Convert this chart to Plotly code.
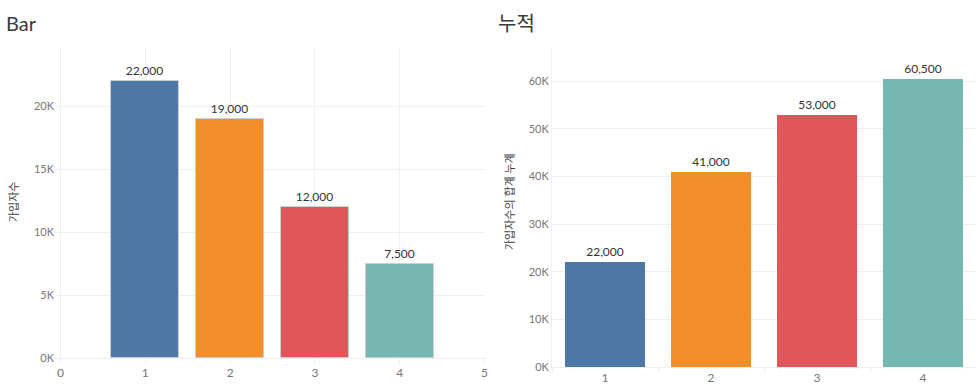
import plotly.graph_objects as go

# ---- data ----
left_x = [1, 2, 3, 4]
left_values = [22000, 19000, 12000, 7500]
right_categories = ["1", "2", "3", "4"]
right_cumulative = [22000, 41000, 53000, 60500]
bar_colors = ["#4e79a7", "#f28e2b", "#e15759", "#76b7b2"]
left_yticks = [0, 5000, 10000, 15000, 20000]
left_yticklabels = ["0K", "5K", "10K", "15K", "20K"]
right_yticks = [0, 10000, 20000, 30000, 40000, 50000, 60000]
right_yticklabels = ["0K", "10K", "20K", "30K", "40K", "50K", "60K"]
left_xticks = [0, 1, 2, 3, 4, 5]
title_left = "Bar"
title_right = "누적"
ytitle_left = "가입자수"
ytitle_right = "가입자수의 합계 누계"

W, H = 976, 387
FONT = "Lato, 'Noto Sans CJK KR', 'Noto Sans', sans-serif"
GRID = "#efefef"
TICKC = "#777777"

def px_x(p):
    return p / W

def px_y(p):
    return 1 - p / H

fig = go.Figure()

fig.add_trace(go.Bar(
    x=left_x, y=left_values, width=0.8,
    marker=dict(color=bar_colors, line=dict(color="#cfcfcf", width=1)),
    texttemplate="%{y:,}", textposition="outside",
    textfont=dict(size=12, color="#333333", family=FONT),
    cliponaxis=False, xaxis="x", yaxis="y", showlegend=False,
))

fig.add_trace(go.Bar(
    x=right_categories, y=right_cumulative, width=0.755,
    marker=dict(color=bar_colors, line=dict(width=0)),
    texttemplate="%{y:,}", textposition="outside",
    textfont=dict(size=12, color="#333333", family=FONT),
    cliponaxis=False, xaxis="x2", yaxis="y2", showlegend=False,
))

fig.update_layout(
    width=W, height=H,
    margin=dict(l=0, r=0, t=0, b=0, autoexpand=False),
    paper_bgcolor="white", plot_bgcolor="white",
    font=dict(family=FONT, size=11, color=TICKC),
    bargap=0,
    xaxis=dict(
        domain=[px_x(55), px_x(485)], anchor="y",
        range=[-0.065, 5.005], tickvals=left_xticks,
        showgrid=True, gridcolor=GRID, gridwidth=1,
        zeroline=False, showline=True, linecolor=GRID,
        ticks="outside", ticklen=4, tickcolor=GRID,
        tickfont=dict(size=12, color=TICKC),
    ),
    yaxis=dict(
        domain=[px_y(358), px_y(47)], anchor="x",
        range=[0, 24700], tickvals=left_yticks, ticktext=left_yticklabels,
        showgrid=True, gridcolor=GRID, gridwidth=1,
        zeroline=False, showline=False, ticks="",
        tickfont=dict(size=11, color=TICKC),
    ),
    xaxis2=dict(
        domain=[px_x(552), 1.0], anchor="y2", type="category",
        range=[-0.5, 3.5], showgrid=False, zeroline=False,
        showline=True, linecolor=GRID,
        ticks="outside", ticklen=5, tickcolor=GRID, tickson="boundaries",
        tickfont=dict(size=12, color=TICKC),
    ),
    yaxis2=dict(
        domain=[px_y(367), px_y(47)], anchor="x2",
        range=[0, 67200], tickvals=right_yticks, ticktext=right_yticklabels,
        showgrid=True, gridcolor=GRID, gridwidth=1,
        zeroline=False, showline=True, linecolor=GRID, ticks="",
        tickfont=dict(size=11, color=TICKC),
    ),
    annotations=[
        dict(text=title_left, xref="paper", yref="paper", x=px_x(4), y=px_y(23),
             xanchor="left", yanchor="middle", showarrow=False,
             font=dict(size=20, color="#3a3a3a", family=FONT)),
        dict(text=title_right, xref="paper", yref="paper", x=px_x(496), y=px_y(23),
             xanchor="left", yanchor="middle", showarrow=False,
             font=dict(size=20, color="#3a3a3a", family=FONT)),
        dict(text=ytitle_left, xref="paper", yref="paper", x=px_x(13), y=px_y(202),
             xanchor="center", yanchor="middle", showarrow=False, textangle=-90,
             font=dict(size=11, color="#444444", family=FONT)),
        dict(text=ytitle_right, xref="paper", yref="paper", x=px_x(509), y=px_y(201),
             xanchor="center", yanchor="middle", showarrow=False, textangle=-90,
             font=dict(size=11, color="#444444", family=FONT)),
    ],
)

fig.write_html(
    "out.html",
    config={"displayModeBar": False},
    post_script="document.body.style.margin='0';document.body.style.overflow='hidden';",
)
